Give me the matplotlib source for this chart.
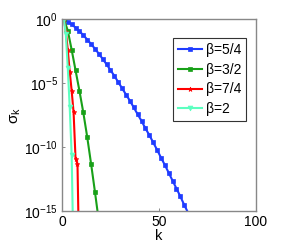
import numpy as np
import matplotlib
matplotlib.use("Agg")
import matplotlib.pyplot as plt

plt.rcParams["font.family"] = ["Liberation Sans", "DejaVu Sans"]
plt.rcParams["mathtext.fontset"] = "custom"
plt.rcParams["mathtext.rm"] = "Liberation Sans"
plt.rcParams["mathtext.it"] = "Liberation Sans"

# singular value decay, values as log10(sigma_k)
k_54 = np.arange(1, 67, 2)
log_54 = [0.0, -0.21, -0.42, -0.67, -0.95, -1.26, -1.60, -1.95, -2.32, -2.71,
          -3.12, -3.54, -3.99, -4.44, -4.93, -5.41, -5.90, -6.38, -6.91, -7.44,
          -7.96, -8.54, -9.06, -9.64, -10.21, -10.82, -11.40, -12.01, -12.63,
          -13.24, -13.86, -14.52, -15.14]

k_32 = np.arange(1, 21, 2)
log_32 = [0.0, -0.9, -2.4, -4.0, -5.6, -7.3, -9.2, -11.3, -13.5, -15.8]

k_74 = np.arange(1, 10)
log_74 = [0.0, -1.0, -2.4, -4.1, -5.6, -7.3, -10.9, -11.3, -20.0]

k_2 = np.arange(1, 7)
log_2 = [0.0, -1.2, -3.8, -6.9, -10.6, -19.0]

labels = ["β=5/4", "β=3/2", "β=7/4", "β=2"]
colors = ["#1f3cff", "#18a018", "#ff0000", "#5cffc0"]
markers = ["s", "s", "*", "v"]

fig = plt.figure(figsize=(2.95, 2.44), dpi=100)
ax = fig.add_axes([0.210, 0.135, 0.658, 0.787])

series = [(k_54, log_54), (k_32, log_32), (k_74, log_74), (k_2, log_2)]
for (k, lg), c, m, lab in zip(series, colors, markers, labels):
    ax.semilogy(k, 10.0 ** np.array(lg), color=c, marker=m, markersize=3.5,
                lw=1.5, markeredgewidth=0.5, label=lab)

ax.set_xlim(0, 100)
ax.set_ylim(1e-15, 1)
ax.set_xticks([0, 50, 100])
ax.set_yticks([1e0, 1e-5, 1e-10, 1e-15])
ax.minorticks_off()
ax.tick_params(direction="in", length=2, width=0.6, colors="#777777",
               labelcolor="black", labelsize=10)
ax.tick_params(axis="x", pad=3)
ax.tick_params(axis="y", pad=3)
for s in ax.spines.values():
    s.set_color("#888888")
    s.set_linewidth(1.0)

ax.set_xlabel("k", fontsize=10.5, labelpad=-0.5)
ax.set_ylabel(r"σ$_\mathrm{k}$", fontsize=11, labelpad=1)

leg = ax.legend(loc="upper right", bbox_to_anchor=(0.985, 0.935), fontsize=10,
                handlelength=1.7, handletextpad=0.3, borderpad=0.35,
                labelspacing=0.4, fancybox=False, framealpha=1)
leg.get_frame().set_edgecolor("#333333")
leg.get_frame().set_linewidth(0.8)

fig.savefig("out.png", dpi=100)
